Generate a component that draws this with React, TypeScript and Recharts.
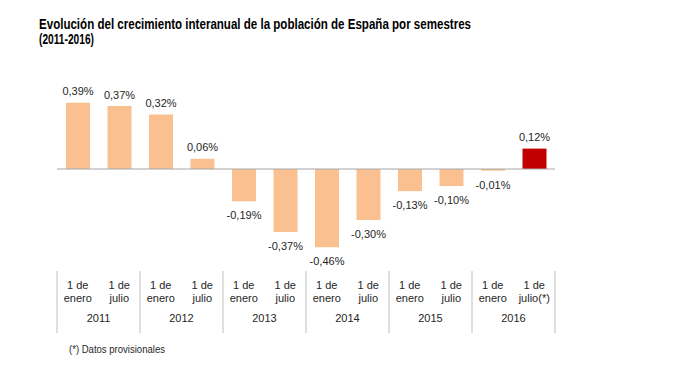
import { BarChart, Bar, XAxis, YAxis, ReferenceLine, Cell, LabelList } from "recharts";

const periods = ["1 de enero", "1 de julio", "1 de enero", "1 de julio", "1 de enero", "1 de julio", "1 de enero", "1 de julio", "1 de enero", "1 de julio", "1 de enero", "1 de julio(*)"];
const years = ["2011", "2011", "2012", "2012", "2013", "2013", "2014", "2014", "2015", "2015", "2016", "2016"];
const growth = [0.39, 0.37, 0.32, 0.06, -0.19, -0.37, -0.46, -0.3, -0.13, -0.1, -0.01, 0.12];

const data = periods.map((p, i) => ({ period: p, year: years[i], value: growth[i], idx: i }));

const W = 687;
const H = 367;
const LEFT = 57;
const RIGHT = 132;
const BAND = (W - LEFT - RIGHT) / periods.length;
const TEXT = "#262626";
const FONT = "'Liberation Sans', Arial, sans-serif";

const fmt = (v: number) => v.toFixed(2).replace(".", ",") + "%";

function PeriodTick(props: any) {
  const { x, payload, index } = props;
  const label: string = payload.value;
  const [first, second] = label.startsWith("1 de ") ? ["1 de", label.slice(5)] : [label, ""];
  const i = index ?? 0;
  return (
    <g>
      <text x={x} y={289} textAnchor="middle" fontSize={11} fill={TEXT} fontFamily={FONT}>
        {first}
      </text>
      <text x={x} y={302} textAnchor="middle" fontSize={11} fill={TEXT} fontFamily={FONT}>
        {second}
      </text>
      {i % 2 === 0 && (
        <>
          <line x1={x - BAND / 2} x2={x - BAND / 2} y1={271} y2={333} stroke="#bfbfbf" />
          <text x={x + BAND / 2} y={322} textAnchor="middle" fontSize={11} fill={TEXT} fontFamily={FONT}>
            {years[i]}
          </text>
        </>
      )}
      {i === periods.length - 1 && (
        <line x1={x + BAND / 2} x2={x + BAND / 2} y1={271} y2={333} stroke="#bfbfbf" />
      )}
    </g>
  );
}

function ValueLabel(props: any) {
  const { x, y, width, height, value } = props;
  const top = Math.min(y, y + height);
  const bottom = Math.max(y, y + height);
  const neg = value < 0;
  return (
    <text
      x={x + width / 2}
      y={neg ? bottom + 18 : top - 7.5}
      textAnchor="middle"
      fontSize={11}
      fill={TEXT}
      fontFamily={FONT}
    >
      {fmt(value)}
    </text>
  );
}

export default function App() {
  return (
    <div style={{ position: "absolute", left: 0, top: 0, width: W, height: H, background: "#fff" }}>
      <svg width={W} height={60} style={{ position: "absolute", left: 0, top: 0 }}>
        <text x={39} y={28.5} fontSize={15} fontWeight="bold" fill="#000" fontFamily={FONT} textLength={432} lengthAdjust="spacingAndGlyphs">
          Evolución del crecimiento interanual de la población de España por semestres
        </text>
        <text x={39} y={44} fontSize={15} fontWeight="bold" fill="#000" fontFamily={FONT} textLength={55} lengthAdjust="spacingAndGlyphs">
          (2011-2016)
        </text>
      </svg>
      <div style={{ position: "absolute", left: 0, top: 0 }}>
        <BarChart
          width={W}
          height={H}
          data={data}
          margin={{ top: 84, right: RIGHT, left: LEFT, bottom: 13 }}
          barCategoryGap={0}
        >
          <XAxis
            dataKey="period"
            axisLine={false}
            tickLine={false}
            tickSize={0}
            tickMargin={0}
            height={100}
            interval={0}
            tick={<PeriodTick />}
          />
          <YAxis hide domain={[-0.5, 0.5]} />
          <ReferenceLine y={0} stroke="#a6a6a6" strokeWidth={1} />
          <Bar dataKey="value" barSize={24} isAnimationActive={false}>
            {data.map((d) => (
              <Cell key={d.idx} fill={d.idx === data.length - 1 ? "#c00000" : "#fac090"} />
            ))}
            <LabelList dataKey="value" content={<ValueLabel />} />
          </Bar>
        </BarChart>
      </div>
      <svg width={W} height={30} style={{ position: "absolute", left: 0, top: 337 }}>
        <text x={69} y={15.5} fontSize={10} fill={TEXT} fontFamily={FONT} textLength={96} lengthAdjust="spacingAndGlyphs">
          (*) Datos provisionales
        </text>
      </svg>
    </div>
  );
}
